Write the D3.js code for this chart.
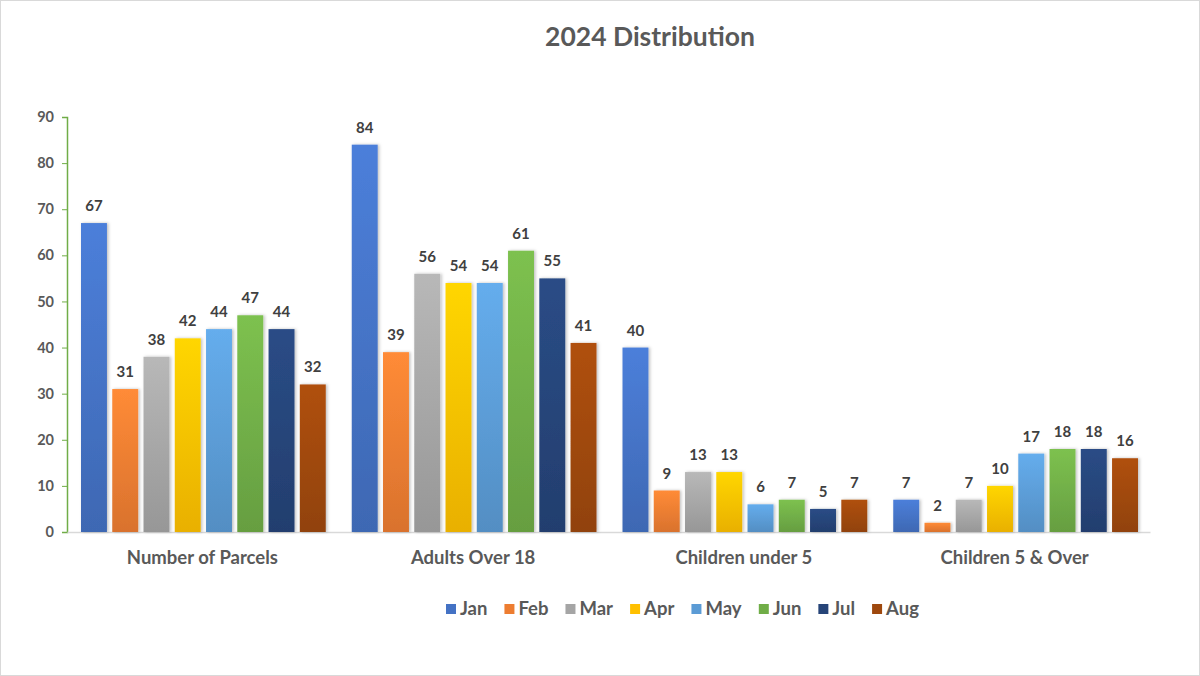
<!DOCTYPE html>
<html lang="en">
<head>
<meta charset="UTF-8">
<title>2024 Distribution</title>
<script src="https://d3js.org/d3.v7.min.js"></script>
<style>
  body { margin: 0; background: #fff; font-family: Lato, "Open Sans", sans-serif; }
  svg text { font-weight: bold; }
</style>
</head>
<body>
<script>
// chart data
const categories = ["Number of Parcels", "Adults Over 18", "Children under 5", "Children 5 & Over"];
const months = ["Jan", "Feb", "Mar", "Apr", "May", "Jun", "Jul", "Aug"];
const jan = [67, 84, 40, 7];
const feb = [31, 39, 9, 2];
const mar = [38, 56, 13, 7];
const apr = [42, 54, 13, 10];
const may = [44, 54, 6, 17];
const jun = [47, 61, 7, 18];
const jul = [44, 55, 5, 18];
const aug = [32, 41, 7, 16];
const yTicks = [0, 10, 20, 30, 40, 50, 60, 70, 80, 90];
const colors = ["#4472C4", "#ED7D31", "#A5A5A5", "#FFC000", "#5B9BD5", "#70AD47", "#264478", "#9E480E"];

const series = [jan, feb, mar, apr, may, jun, jul, aug];

const W = 1200, H = 676;
const margin = {top: 117, right: 50, bottom: 144, left: 67};
const width = W - margin.left - margin.right;
const height = H - margin.top - margin.bottom;

const svg = d3.select("body").append("svg")
    .attr("width", W).attr("height", H);

// outer frame
svg.append("rect")
    .attr("x", 0.5).attr("y", 0.5)
    .attr("width", W - 1).attr("height", H - 1)
    .attr("fill", "#fff").attr("stroke", "#d9d9d9");

// gradients, lighter at the top like the office theme
const defs = svg.append("defs");
colors.forEach((c, i) => {
    const g = defs.append("linearGradient")
        .attr("id", "grad" + i)
        .attr("x1", 0).attr("y1", 0).attr("x2", 0).attr("y2", 1);
    g.append("stop").attr("offset", "0%").attr("stop-color", d3.color(c).brighter(0.3));
    g.append("stop").attr("offset", "100%").attr("stop-color", d3.color(c).darker(0.25));
});
const shadow = defs.append("filter").attr("id", "shadow")
    .attr("x", "-20%").attr("y", "-10%").attr("width", "150%").attr("height", "130%");
shadow.append("feDropShadow")
    .attr("dx", 1.5).attr("dy", 0).attr("stdDeviation", 1.5)
    .attr("flood-color", "#000").attr("flood-opacity", 0.25);

const g = svg.append("g").attr("transform", `translate(${margin.left},${margin.top})`);

const x0 = d3.scaleBand().domain(categories).range([0, width]).paddingInner(0).paddingOuter(0);
const x1 = d3.scaleBand().domain(months).range([14, x0.bandwidth() - 12]).paddingInner(0.17).paddingOuter(0);
const y = d3.scaleLinear().domain([0, 90]).range([height, 0]);

// title
svg.append("text")
    .attr("x", 650).attr("y", 46)
    .attr("text-anchor", "middle")
    .attr("fill", "#595959")
    .style("font-size", "26.5px")
    .text("2024 Distribution");

// y axis
const yAxis = g.append("g")
    .call(d3.axisLeft(y).tickValues(yTicks).tickSize(5).tickPadding(8));
yAxis.select(".domain").attr("stroke", "#70AD47").attr("stroke-width", 1.5);
yAxis.selectAll(".tick line").attr("stroke", "#70AD47");
yAxis.selectAll(".tick text")
    .attr("fill", "#595959")
    .style("font-size", "14.5px")
    .style("font-family", "Lato, sans-serif");

// x axis baseline
const xAxis = g.append("g")
    .attr("transform", `translate(0,${height})`)
    .call(d3.axisBottom(x0).tickSize(0).tickPadding(19));
xAxis.select(".domain").attr("stroke", "#d9d9d9").attr("stroke-width", 1.5);
xAxis.selectAll(".tick text")
    .attr("fill", "#595959")
    .style("font-size", "18.5px")
    .style("font-family", "Lato, sans-serif");

// bars
const groups = g.selectAll(".cat")
    .data(categories)
    .join("g")
    .attr("class", "cat")
    .attr("transform", d => `translate(${x0(d)},0)`);

groups.selectAll("rect")
    .data((d, ci) => months.map((m, mi) => ({month: m, mi, value: series[mi][ci]})))
    .join("rect")
    .attr("x", d => x1(d.month))
    .attr("y", d => y(d.value))
    .attr("width", x1.bandwidth())
    .attr("height", d => height - y(d.value))
    .attr("fill", d => `url(#grad${d.mi})`)
    .attr("filter", "url(#shadow)");

groups.selectAll(".lbl")
    .data((d, ci) => months.map((m, mi) => ({month: m, mi, value: series[mi][ci]})))
    .join("text")
    .attr("class", "lbl")
    .attr("x", d => x1(d.month) + x1.bandwidth() / 2)
    .attr("y", d => y(d.value) - 12)
    .attr("text-anchor", "middle")
    .attr("fill", "#404040")
    .style("font-size", "15px")
    .text(d => d.value);

// legend
const legend = svg.append("g").attr("transform", "translate(0,609)");
const items = legend.selectAll(".item")
    .data(months)
    .join("g")
    .attr("class", "item");
items.append("rect")
    .attr("width", 10).attr("height", 10)
    .attr("y", -5)
    .attr("fill", (d, i) => colors[i]);
items.append("text")
    .attr("x", 14)
    .attr("dy", "0.35em")
    .attr("fill", "#595959")
    .style("font-size", "18.5px")
    .text(d => d);

let offset = 0;
const positions = [];
items.each(function () {
    positions.push(offset);
    offset += this.getBBox().width + 17;
});
const startX = 446;
items.attr("transform", (d, i) => `translate(${startX + positions[i]},0)`);
</script>
</body>
</html>
